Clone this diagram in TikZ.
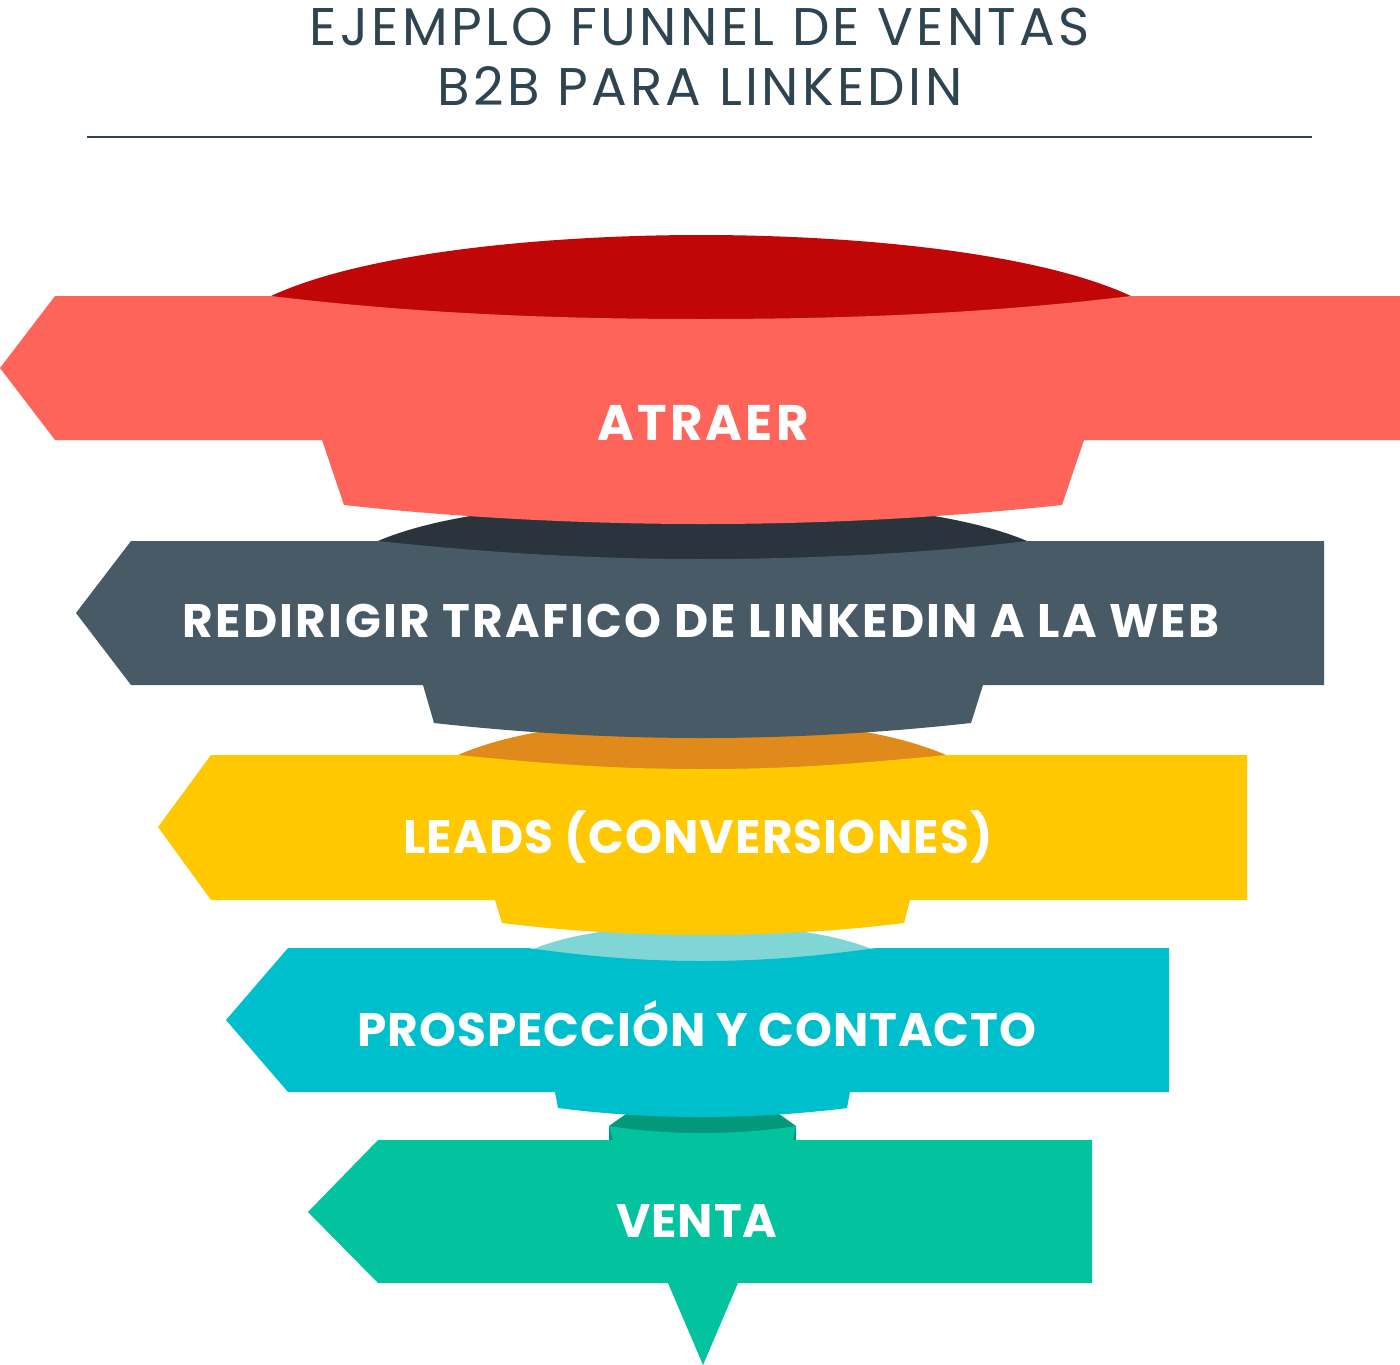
\documentclass[tikz,border=0pt]{standalone}
\usepackage{fontspec}
\setmainfont{Poppins}
\definecolor{lipred}{HTML}{C00606}
\definecolor{bandpink}{HTML}{FF645A}
\definecolor{lipslate}{HTML}{2B343D}
\definecolor{bandslate}{HTML}{475A66}
\definecolor{liporange}{HTML}{E08A1C}
\definecolor{bandyellow}{HTML}{FFC800}
\definecolor{lipcyan}{HTML}{80D5D5}
\definecolor{bandcyan}{HTML}{00BFCC}
\definecolor{lipgreen}{HTML}{03987A}
\definecolor{bandgreen}{HTML}{03C39F}
\definecolor{titlecol}{HTML}{2F4451}
\tikzset{
  bandlabel/.style={anchor=base, inner sep=0pt, text=white, font=\bfseries\fontsize{47}{50}\selectfont},
  titletext/.style={anchor=base, inner sep=0pt, text=titlecol, font=\fontsize{53}{56}\selectfont\addfontfeature{LetterSpace=6.3}},
}
\begin{document}
\begin{tikzpicture}[x=1pt,y=-1pt]
\useasboundingbox[fill=white] (0,0) rectangle (1400,1365);
% title
\node[titletext] (t1) at (700,45) {EJEMPLO FUNNEL DE VENTAS};
\node[titletext] (t2) at (700,105) {B2B PARA LINKEDIN};
\draw[titlecol, line width=2pt] (87,137) -- (1312,137);
% lips
\fill[lipred] (271,296) .. controls (370,250) and (560,235) .. (701,235) .. controls (842,235) and (1032,250) .. (1131,296) -- (1131,340) -- (271,340) -- cycle;
\fill[lipslate] (378,541) .. controls (450,510) and (580,500) .. (702,500) .. controls (824,500) and (954,510) .. (1027,541) -- (1027,570) -- (378,570) -- cycle;
\fill[liporange] (458,755) .. controls (520,728) and (610,720) .. (702,720) .. controls (794,720) and (884,728) .. (946,755) -- (946,780) -- (458,780) -- cycle;
\fill[lipcyan] (529,951) .. controls (570,932) and (640,925) .. (702,925) .. controls (764,925) and (834,932) .. (876,951) -- (876,975) -- (529,975) -- cycle;
\fill[lipgreen] (609,1126) -- (640,1104) -- (765,1104) -- (796,1126) -- (796,1145) -- (609,1145) -- cycle;
% bands
\fill[bandpink] (0,368) -- (55,296) -- (271,296) .. controls (420,314) and (560,319) .. (701,319) .. controls (842,319) and (982,314) .. (1131,296) -- (1400,296) -- (1400,440) -- (1084,440) -- (1062,505) .. controls (940,518) and (820,524) .. (703,524) .. controls (586,524) and (462,518) .. (344,505) -- (322,440) -- (55,440) -- cycle;
\fill[bandslate] (76,613) -- (131,541) -- (378,541) .. controls (500,554) and (600,559) .. (702,559) .. controls (804,559) and (920,554) .. (1027,541) -- (1324,541) -- (1324,685) -- (983,685) -- (971,723) .. controls (880,733) and (790,738) .. (702,738) .. controls (614,738) and (524,733) .. (434,723) -- (423,685) -- (131,685) -- cycle;
\fill[bandyellow] (158,827) -- (211,755) -- (458,755) .. controls (560,765) and (620,769) .. (702,769) .. controls (784,769) and (844,765) .. (946,755) -- (1247,755) -- (1247,900) -- (910,900) -- (904,923) .. controls (840,931) and (770,935) .. (703,935) .. controls (636,935) and (566,931) .. (502,923) -- (495,900) -- (211,900) -- cycle;
\fill[bandcyan] (226,1020) -- (288,948) -- (528,948) .. controls (600,958) and (650,961) .. (702,961) .. controls (754,961) and (804,958) .. (876,948) -- (1169,948) -- (1169,1092) -- (850,1092) -- (847,1108) .. controls (800,1114) and (750,1117) .. (702,1117) .. controls (654,1117) and (604,1114) .. (558,1108) -- (555,1092) -- (288,1092) -- cycle;
\fill[bandgreen] (308,1212) -- (378,1140) -- (613,1140) -- (609,1126) .. controls (640,1131) and (670,1133) .. (702,1133) .. controls (734,1133) and (764,1131) .. (796,1126) -- (793,1140) -- (1092,1140) -- (1092,1283) -- (738,1283) -- (703,1365) -- (668,1283) -- (378,1283) -- cycle;
% labels
\node[bandlabel, font=\bfseries\fontsize{50}{53}\selectfont\addfontfeature{LetterSpace=6.5}] (l1) at (703,440) {ATRAER};
\node[bandlabel, font=\bfseries\fontsize{47}{50}\selectfont\addfontfeature{LetterSpace=5}] (l2) at (701,637) {REDIRIGIR TRAFICO DE LINKEDIN A LA WEB};
\node[bandlabel, font=\bfseries\fontsize{47}{50}\selectfont\addfontfeature{LetterSpace=2.5}] (l3) at (698,853) {LEADS (CONVERSIONES)};
\node[bandlabel, font=\bfseries\fontsize{47}{50}\selectfont\addfontfeature{LetterSpace=2}] (l4) at (697,1046) {PROSPECCIÓN Y CONTACTO};
\node[bandlabel, font=\bfseries\fontsize{47}{50}\selectfont\addfontfeature{LetterSpace=2}] (l5) at (697,1237) {VENTA};
\end{tikzpicture}
\end{document}
